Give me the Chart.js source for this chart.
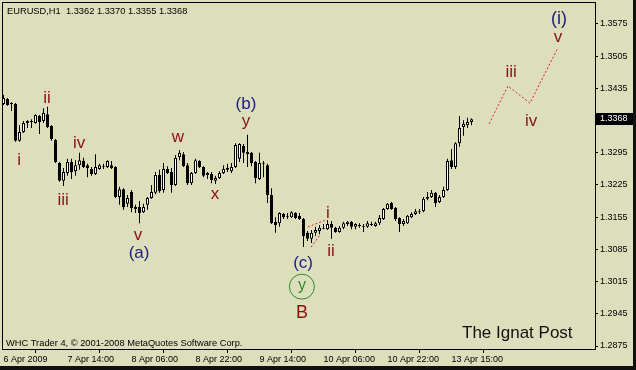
<!DOCTYPE html>
<html>
<head>
<meta charset="utf-8">
<script src="https://cdn.jsdelivr.net/npm/chart.js@4.4.1/dist/chart.umd.min.js"></script>
<style>
  html, body { margin: 0; padding: 0; background: #dcdebc; }
  canvas { display: block; }
</style>
</head>
<body>
<canvas id="chartMain" width="636" height="370"></canvas>
<script>
// EURUSD H1, one candle per hour, index 0 = first visible bar
const opens = [
  1.3401, 1.3412, 1.3403, 1.3401, 1.3321, 1.3340, 1.3360, 1.3362, 1.3360, 1.3375,
  1.3364, 1.3379, 1.3353, 1.3323, 1.3273, 1.3234, 1.3251, 1.3275, 1.3255, 1.3268,
  1.3277, 1.3268, 1.3260, 1.3249, 1.3260, 1.3264, 1.3264, 1.3268, 1.3264, 1.3199,
  1.3216, 1.3184, 1.3210, 1.3177, 1.3177, 1.3166, 1.3182, 1.3197, 1.3208, 1.3247,
  1.3214, 1.3260, 1.3253, 1.3225, 1.3286, 1.3292, 1.3268, 1.3229, 1.3251, 1.3277,
  1.3264, 1.3251, 1.3249, 1.3234, 1.3240, 1.3251, 1.3258, 1.3255, 1.3264, 1.3282,
  1.3310, 1.3297, 1.3295, 1.3275, 1.3238, 1.3273, 1.3268, 1.3203, 1.3145, 1.3142,
  1.3162, 1.3158, 1.3155, 1.3164, 1.3158, 1.3151, 1.3121, 1.3108, 1.3121, 1.3125,
  1.3132, 1.3129, 1.3140, 1.3132, 1.3123, 1.3132, 1.3140, 1.3145, 1.3134, 1.3136,
  1.3136, 1.3134, 1.3140, 1.3136, 1.3142, 1.3151, 1.3173, 1.3186, 1.3175, 1.3153,
  1.3140, 1.3142, 1.3155, 1.3162, 1.3168, 1.3168, 1.3195, 1.3199, 1.3208, 1.3188,
  1.3199, 1.3214, 1.3279, 1.3264, 1.3316, 1.3351, 1.3355, 1.3362
];
const highs = [
  1.3421, 1.3414, 1.3405, 1.3403, 1.3355, 1.3364, 1.3366, 1.3368, 1.3379, 1.3377,
  1.3392, 1.3395, 1.3355, 1.3325, 1.3275, 1.3262, 1.3282, 1.3282, 1.3279, 1.3295,
  1.3284, 1.3271, 1.3264, 1.3292, 1.3271, 1.3271, 1.3279, 1.3277, 1.3266, 1.3221,
  1.3218, 1.3203, 1.3214, 1.3182, 1.3190, 1.3184, 1.3199, 1.3225, 1.3253, 1.3258,
  1.3273, 1.3266, 1.3262, 1.3290, 1.3301, 1.3297, 1.3273, 1.3253, 1.3282, 1.3279,
  1.3266, 1.3253, 1.3253, 1.3245, 1.3255, 1.3268, 1.3271, 1.3273, 1.3316, 1.3316,
  1.3314, 1.3334, 1.3297, 1.3277, 1.3295, 1.3277, 1.3271, 1.3218, 1.3155, 1.3166,
  1.3164, 1.3164, 1.3168, 1.3166, 1.3164, 1.3153, 1.3125, 1.3127, 1.3134, 1.3138,
  1.3140, 1.3149, 1.3147, 1.3134, 1.3136, 1.3145, 1.3147, 1.3147, 1.3142, 1.3142,
  1.3140, 1.3147, 1.3145, 1.3145, 1.3160, 1.3175, 1.3186, 1.3188, 1.3177, 1.3155,
  1.3151, 1.3160, 1.3166, 1.3173, 1.3173, 1.3199, 1.3210, 1.3214, 1.3210, 1.3203,
  1.3221, 1.3282, 1.3303, 1.3318, 1.3375, 1.3366, 1.3371, 1.3370
];
const lows = [
  1.3399, 1.3397, 1.3386, 1.3319, 1.3319, 1.3338, 1.3349, 1.3349, 1.3358, 1.3336,
  1.3360, 1.3349, 1.3321, 1.3273, 1.3232, 1.3223, 1.3245, 1.3238, 1.3245, 1.3258,
  1.3262, 1.3242, 1.3245, 1.3247, 1.3258, 1.3260, 1.3262, 1.3260, 1.3197, 1.3182,
  1.3171, 1.3177, 1.3166, 1.3164, 1.3142, 1.3164, 1.3171, 1.3195, 1.3205, 1.3208,
  1.3208, 1.3249, 1.3208, 1.3223, 1.3279, 1.3264, 1.3225, 1.3225, 1.3249, 1.3262,
  1.3242, 1.3238, 1.3229, 1.3227, 1.3238, 1.3249, 1.3253, 1.3251, 1.3262, 1.3275,
  1.3273, 1.3264, 1.3266, 1.3229, 1.3236, 1.3242, 1.3186, 1.3140, 1.3121, 1.3134,
  1.3151, 1.3151, 1.3153, 1.3151, 1.3149, 1.3090, 1.3103, 1.3099, 1.3114, 1.3118,
  1.3129, 1.3127, 1.3108, 1.3121, 1.3121, 1.3129, 1.3136, 1.3129, 1.3129, 1.3132,
  1.3123, 1.3132, 1.3136, 1.3134, 1.3138, 1.3149, 1.3171, 1.3171, 1.3147, 1.3123,
  1.3136, 1.3140, 1.3153, 1.3160, 1.3162, 1.3166, 1.3192, 1.3197, 1.3177, 1.3186,
  1.3197, 1.3212, 1.3260, 1.3260, 1.3308, 1.3332, 1.3349, 1.3355
];
const closes = [
  1.3414, 1.3399, 1.3401, 1.3321, 1.3340, 1.3360, 1.3364, 1.3364, 1.3377, 1.3362,
  1.3382, 1.3351, 1.3325, 1.3275, 1.3234, 1.3253, 1.3275, 1.3253, 1.3268, 1.3279,
  1.3264, 1.3262, 1.3249, 1.3264, 1.3268, 1.3266, 1.3277, 1.3262, 1.3199, 1.3216,
  1.3177, 1.3197, 1.3175, 1.3173, 1.3164, 1.3177, 1.3197, 1.3210, 1.3247, 1.3212,
  1.3260, 1.3251, 1.3225, 1.3284, 1.3295, 1.3266, 1.3229, 1.3251, 1.3279, 1.3264,
  1.3245, 1.3247, 1.3236, 1.3240, 1.3251, 1.3260, 1.3262, 1.3264, 1.3312, 1.3314,
  1.3295, 1.3292, 1.3273, 1.3240, 1.3273, 1.3271, 1.3203, 1.3142, 1.3138, 1.3164,
  1.3155, 1.3156, 1.3166, 1.3153, 1.3151, 1.3114, 1.3108, 1.3121, 1.3127, 1.3132,
  1.3130, 1.3140, 1.3132, 1.3123, 1.3132, 1.3142, 1.3145, 1.3134, 1.3140, 1.3138,
  1.3134, 1.3142, 1.3138, 1.3142, 1.3153, 1.3173, 1.3184, 1.3173, 1.3151, 1.3140,
  1.3147, 1.3158, 1.3162, 1.3168, 1.3166, 1.3195, 1.3199, 1.3208, 1.3186, 1.3199,
  1.3214, 1.3277, 1.3264, 1.3316, 1.3349, 1.3358, 1.3362, 1.3368
];

// time axis
const timeTickIdx = [0, 16, 32, 48, 64, 80, 96, 112];
const timeLabels = ['6 Apr 2009', '7 Apr 14:00', '8 Apr 06:00', '8 Apr 22:00',
  '9 Apr 14:00', '10 Apr 06:00', '10 Apr 22:00', '13 Apr 15:00'];

// price axis
const priceTicks = [1.2875, 1.2945, 1.3015, 1.3085, 1.3155, 1.3225, 1.3295,
  1.3435, 1.3505, 1.3575];

// projected wave path (dotted red) and small channel near the low
const projIdx = [121.4, 126.1, 131.6, 138.6];
const projPrice = [1.3358, 1.3440, 1.3403, 1.3523];
const chanAIdx = [76.1, 80.6];
const chanAPrice = [1.3134, 1.3149];
const chanBIdx = [76.9, 79.1];
const chanBPrice = [1.3090, 1.3116];

// wave labels: r = minor (dark red), n = minute (navy), g = circled, R = big letter, N = big navy
const waveText = ['i', 'ii', 'iii', 'iv', 'v', '(a)', 'w', 'x', 'y', '(b)', '(c)', 'y', 'B',
  'i', 'ii', 'iii', 'iv', 'v', '(i)'];
const waveIdx = [3.9, 10.9, 14.9, 18.9, 33.6, 33.9, 43.6, 52.9, 60.6, 60.6, 74.9, 74.6, 74.6,
  81.1, 81.9, 126.9, 131.9, 138.6, 138.9];
const wavePrice = [1.3268, 1.3403, 1.3182, 1.3305, 1.3105, 1.3066, 1.3318, 1.3195, 1.3353,
  1.3390, 1.3045, 1.3004, 1.2936, 1.3153, 1.3071, 1.3460, 1.3353, 1.3536, 1.3575];
const waveKind = ['r', 'r', 'r', 'r', 'r', 'n', 'r', 'r', 'r', 'n', 'n', 'g', 'R',
  'r', 'r', 'r', 'r', 'r', 'N'];

const BG = '#dcdebc';
const FONT = "'Liberation Sans', Arial, sans-serif";
const RED = '#8c1010';
const NAVY = '#20207f';
const GREEN = '#2e8b2e';
const DOT = 'rgb(228, 30, 60)';

const kindStyle = {
  r: { font: '17px ' + FONT, color: RED },
  n: { font: '17px ' + FONT, color: NAVY },
  g: { font: '16px ' + FONT, color: GREEN },
  R: { font: '18px ' + FONT, color: RED },
  N: { font: '18px ' + FONT, color: NAVY }
};

const lineSet = (xs, ys) => ({
  type: 'line',
  data: xs.map((x, i) => ({ x: x, y: ys[i] })),
  borderColor: DOT,
  borderWidth: 1,
  borderDash: [2, 2],
  pointRadius: 0,
  fill: false,
  order: 0
});

const wicks = {
  data: lows.map((l, i) => ({ x: i, y: [l, highs[i]] })),
  backgroundColor: '#000',
  borderWidth: 0,
  barThickness: 1,
  grouped: false,
  inflateAmount: 0,
  order: 2
};

const bodies = {
  data: opens.map((o, i) => ({ x: i, y: [o, closes[i]] })),
  backgroundColor: c => (closes[c.dataIndex] >= opens[c.dataIndex] ? '#fff' : '#000'),
  borderColor: '#000',
  borderWidth: 1,
  borderSkipped: false,
  barThickness: 3,
  grouped: false,
  inflateAmount: 0,
  order: 1
};

const chartFrame = {
  id: 'chartFrame',
  beforeDraw: chart => {
    const ctx = chart.ctx;
    ctx.save();
    ctx.fillStyle = BG;
    ctx.fillRect(0, 0, chart.width, chart.height);
    ctx.fillStyle = '#111';
    ctx.fillRect(chart.width - 3, 0, 3, chart.height);
    ctx.fillRect(0, chart.height - 4, chart.width, 4);
    ctx.restore();
  },
  afterDraw: chart => {
    const ctx = chart.ctx;
    const a = chart.chartArea;
    const y = chart.scales.y;
    ctx.save();
    ctx.strokeStyle = '#000';
    ctx.lineWidth = 1;
    ctx.strokeRect(a.left + 0.5, a.top + 0.5, a.right - a.left, a.bottom - a.top);

    ctx.fillStyle = '#000';
    ctx.textAlign = 'left';
    ctx.textBaseline = 'alphabetic';
    ctx.font = '9.3px ' + FONT;
    const last = closes.length - 1;
    ctx.fillText('EURUSD,H1  ' + [opens[last], highs[last], lows[last], closes[last]]
      .map(v => v.toFixed(4)).join(' '), 7, 14);
    ctx.fillText('WHC Trader 4, \u00a9 2001-2008 MetaQuotes Software Corp.', 6, 346);

    ctx.font = '17px ' + FONT;
    ctx.fillStyle = '#111';
    ctx.fillText('The Ignat Post', 462, 338);

    // current price tag
    const py = Math.round(y.getPixelForValue(closes[last]));
    ctx.fillStyle = '#000';
    ctx.fillRect(a.right + 1, py - 6, 37, 12);
    ctx.fillStyle = '#fff';
    ctx.font = '9px ' + FONT;
    ctx.textBaseline = 'middle';
    ctx.fillText(closes[last].toFixed(4), a.right + 5, py);
    ctx.restore();
  }
};

const waveLabels = {
  id: 'waveLabels',
  afterDatasetsDraw: chart => {
    const ctx = chart.ctx;
    const xs = chart.scales.x;
    const ys = chart.scales.y;
    ctx.save();
    ctx.textAlign = 'center';
    ctx.textBaseline = 'alphabetic';
    waveText.forEach((t, i) => {
      const st = kindStyle[waveKind[i]];
      const px = xs.getPixelForValue(waveIdx[i]);
      const py = ys.getPixelForValue(wavePrice[i]);
      ctx.font = st.font;
      ctx.fillStyle = st.color;
      if (waveKind[i] === 'g') {
        ctx.strokeStyle = st.color;
        ctx.lineWidth = 1;
        ctx.beginPath();
        ctx.arc(px, py, 12.5, 0, Math.PI * 2);
        ctx.stroke();
        ctx.fillText(t, px, py + 3);
      } else {
        ctx.fillText(t, px, py);
      }
    });
    ctx.restore();
  }
};

const chartMain = new Chart(document.getElementById('chartMain'), {
  type: 'bar',
  data: {
    datasets: [
      wicks,
      bodies,
      lineSet(projIdx, projPrice),
      lineSet(chanAIdx, chanAPrice),
      lineSet(chanBIdx, chanBPrice)
    ]
  },
  options: {
    responsive: false,
    animation: false,
    layout: { padding: { left: 2, top: 2, right: 0, bottom: 0 } },
    scales: {
      x: {
        type: 'linear',
        min: -0.375,
        max: 147.875,
        offset: false,
        border: { display: true, color: '#000' },
        grid: { display: true, drawOnChartArea: false, drawTicks: true, tickLength: 4, color: '#000' },
        afterBuildTicks: s => { s.ticks = timeTickIdx.map(v => ({ value: v })); },
        afterFit: s => { s.height = 21; s.paddingLeft = 0; s.paddingRight = 0; },
        ticks: {
          autoSkip: false,
          maxRotation: 0,
          align: 'start',
          padding: 1,
          color: '#000',
          font: { family: FONT, size: 9 },
          callback: (v, i) => timeLabels[i]
        }
      },
      y: {
        position: 'right',
        min: 1.28685,
        max: 1.36228,
        border: { display: true, color: '#000' },
        grid: { display: true, drawOnChartArea: false, drawTicks: true, tickLength: 3, color: '#000' },
        afterBuildTicks: s => { s.ticks = priceTicks.map(v => ({ value: v })); },
        afterFit: s => { s.width = 41; s.paddingTop = 0; s.paddingBottom = 0; },
        ticks: {
          padding: 2,
          color: '#000',
          font: { family: FONT, size: 9 },
          callback: v => v.toFixed(4)
        }
      }
    },
    plugins: {
      legend: { display: false },
      tooltip: { enabled: false }
    }
  },
  plugins: [chartFrame, waveLabels]
});
</script>
</body>
</html>
